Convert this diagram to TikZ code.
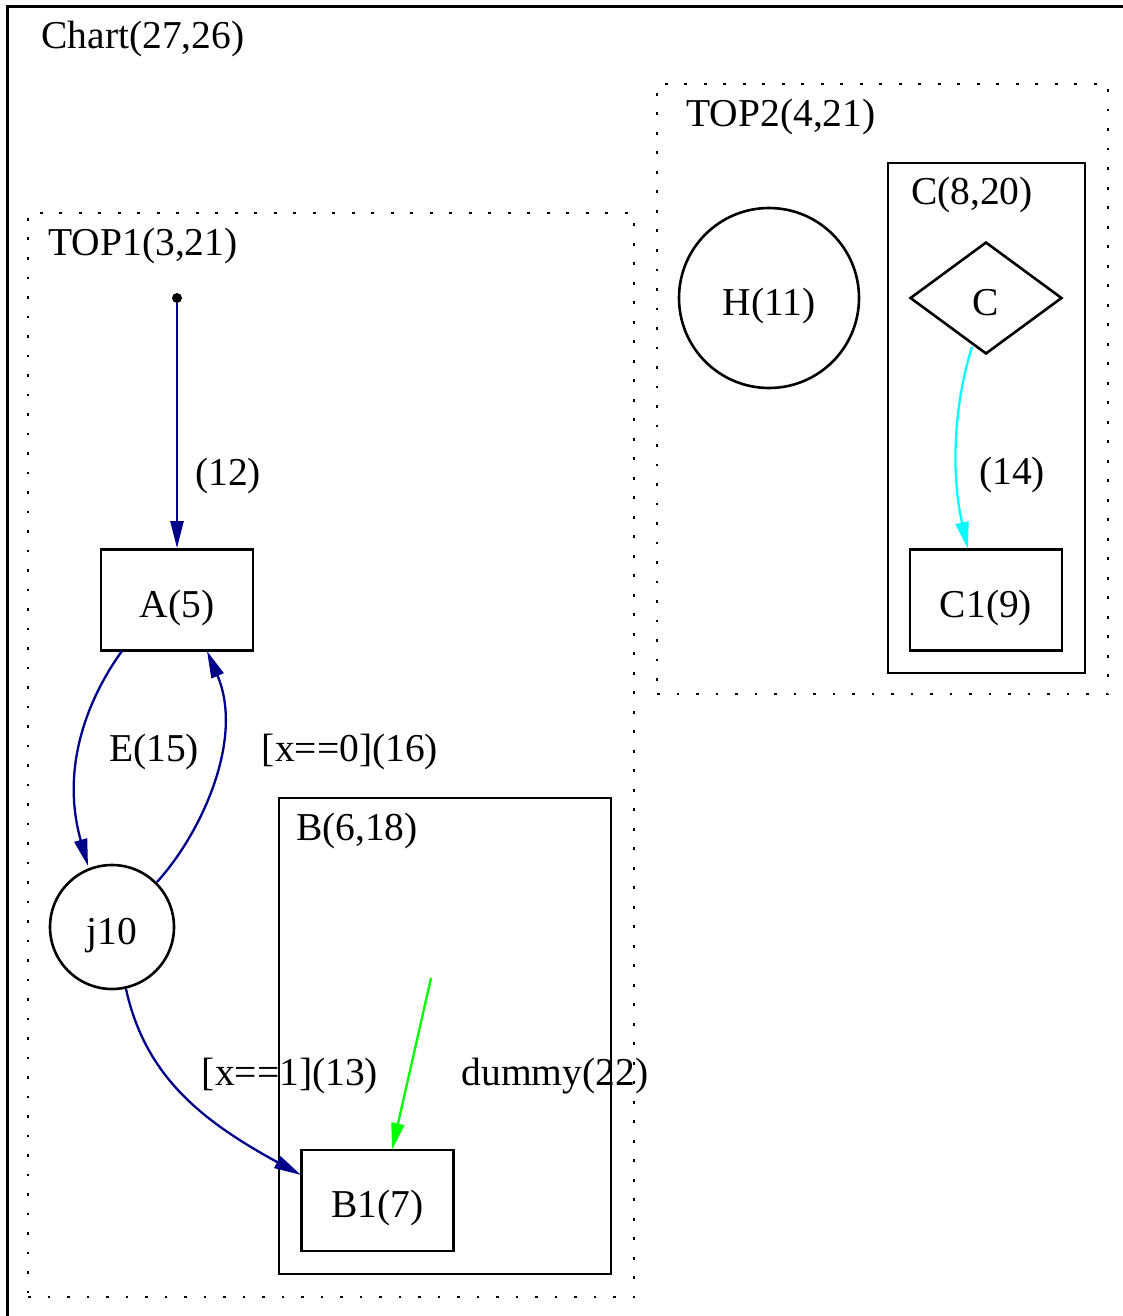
\documentclass[tikz,border=0pt]{standalone}
\usepackage{fontspec}
\setmainfont{Liberation Serif}
\usetikzlibrary{arrows.meta,shapes.geometric}
\definecolor{edgenavy}{RGB}{0,0,139}
\definecolor{edgegreen}{RGB}{0,255,0}
\definecolor{edgecyan}{RGB}{0,255,255}
\tikzset{
  txt/.style={inner sep=0pt},
  statetext/.style={text height=34pt, text depth=0pt},
  statebox/.style={draw, line width=2.6pt, rectangle, minimum width=152pt, minimum height=101pt, inner sep=0pt, statetext},
  statecirc/.style={draw, line width=2.6pt, circle, inner sep=0pt, statetext},
  cluster/.style={draw, line width=2.6pt, rectangle, inner sep=0pt},
  dotcluster/.style={draw, line width=2.8pt, dash pattern=on 2.8pt off 16.7pt, rectangle, inner sep=0pt},
  tip/.style={-{Triangle[length=27pt,width=13pt]}},
  navyedge/.style={draw=edgenavy, line width=2.3pt, tip},
}
\begin{document}
\begin{tikzpicture}[x=1pt,y=-1pt,font=\fontsize{39.5}{47}\selectfont]
\useasboundingbox (0,0) rectangle (1123,1316);
\clip (0,0) rectangle (1123,1316);

% outer chart frame
\node[cluster, minimum width=1130pt, minimum height=1330pt, anchor=north west] (chart) at (6,5) {};
\node[txt] (chartlbl) at (143,39) {Chart(27,26)};

% TOP1 region
\node[dotcluster, minimum width=606pt, minimum height=1084pt] (top1) at (331,755) {};
\node[txt] (top1lbl) at (143,246) {TOP1(3,21)};

% TOP2 region
\node[dotcluster, minimum width=451pt, minimum height=610pt] (top2) at (882.5,389) {};
\node[txt] (top2lbl) at (781,117) {TOP2(4,21)};

% composite state C
\node[cluster, minimum width=197pt, minimum height=510pt] (cbox) at (986.5,418) {};
\node[txt] (cboxlbl) at (972,195) {C(8,20)};

% composite state B
\node[cluster, minimum width=332pt, minimum height=476pt] (bbox) at (445,1036) {};
\node[txt] (bboxlbl) at (357,831) {B(6,18)};

% states
\node[circle, fill=black, minimum size=10pt, inner sep=0pt] (init) at (177,298) {};
\node[statebox] (A) at (177,600) {A(5)};
\node[statecirc, minimum size=124pt] (j10) at (112,927) {j10};
\node[statecirc, minimum size=180pt] (H) at (769,298) {H(11)};
\node[draw, line width=2.6pt, diamond, aspect=1.357, minimum width=152pt, minimum height=112pt, inner sep=0pt, statetext] (C) at (986,298) {C};
\node[statebox] (C1) at (986,600) {C1(9)};
\node[statebox] (B1) at (377.5,1200.5) {B1(7)};
\coordinate (dummy) at (431,978);

% edge end points on the state outlines
\coordinate (aOutE) at (122,651);
\coordinate (jInE) at (88,866);
\coordinate (jOut0) at (157,882);
\coordinate (aIn0) at (207,651);
\coordinate (jOut1) at (126,989);
\coordinate (bIn1) at (301,1175);
\coordinate (bInD) at (392,1150);
\coordinate (cOut) at (972,347);
\coordinate (c1In) at (968,549);

% transitions
\draw[navyedge] (init) -- (A);
\draw[navyedge] (aOutE) .. controls (95,688) and (58,760) .. (jInE);
\draw[navyedge] (jOut0) .. controls (200,835) and (245,740) .. (aIn0);
\draw[navyedge] (jOut1) .. controls (145,1075) and (200,1120) .. (bIn1);
\draw[edgegreen, line width=2.3pt, tip] (dummy) -- (bInD);
\draw[edgecyan, line width=2.3pt, tip] (cOut) .. controls (955,400) and (950,470) .. (c1In);

% transition labels
\node[txt] (l12) at (228,476) {(12)};
\node[txt] (l15) at (154,752) {E(15)};
\node[txt] (l16) at (350,752) {[x==0](16)};
\node[txt] (l13) at (290,1076) {[x==1](13)};
\node[txt] (l22) at (555,1076) {dummy(22)};
\node[txt] (l14) at (1012,475) {(14)};
\end{tikzpicture}
\end{document}
